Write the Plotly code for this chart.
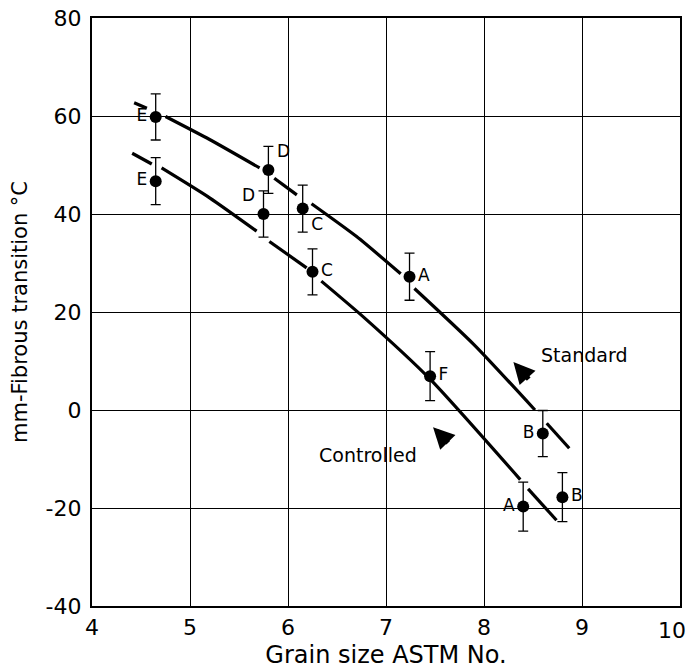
import plotly.graph_objects as go

# Measured transition temperatures (mean ± scatter) for the two steels
std_labels = ["E", "D", "C", "A", "B"]
std_grain = [4.65, 5.80, 6.15, 7.24, 8.60]
std_temp = [59.8, 49.0, 41.1, 27.2, -4.8]
std_err = [4.7, 4.8, 4.8, 4.8, 4.7]

ctl_labels = ["E", "D", "C", "F", "A", "B"]
ctl_grain = [4.65, 5.75, 6.25, 7.45, 8.40, 8.80]
ctl_temp = [46.7, 40.0, 28.2, 6.9, -19.7, -17.8]
ctl_err = [4.8, 4.7, 4.7, 5.0, 5.0, 5.0]

# Hand-drawn trend curves, broken where they pass the data points
std_curve_x = [4.43, 4.56, None, 4.75, 5.20, 5.71, None, 5.86, 6.09, None,
               6.24, 6.70, 7.15, None, 7.29, 7.90, 8.52, None, 8.64, 8.87]
std_curve_y = [62.7, 61.6, None, 59.9, 55.2, 49.4, None, 47.3, 43.9, None,
               42.1, 35.4, 27.8, None, 24.8, 13.3, 0.0, None, -2.7, -7.8]

ctl_curve_x = [4.41, 4.61, None, 4.71, 5.20, 5.68, None, 5.81, 6.19, None,
               6.34, 6.78, 7.45, 8.37, None, 8.45, 8.74]
ctl_curve_y = [52.4, 50.2, None, 49.4, 43.3, 36.5, None, 34.4, 29.0, None,
               26.3, 18.8, 6.3, -14.2, None, -16.1, -22.5]

x_ticks = [4, 5, 6, 7, 8, 9, 10]
x_tick_text = ["4", "5", "6", "7", "8", "9", "10"]
y_ticks = [-40, -20, 0, 20, 40, 60, 80]
y_tick_text = ["-40", "-20", "0", "20", "40", "60", "80"]

FONT = "DejaVu Sans"
INK = "black"
TICK_SIZE = 22

fig = go.Figure()

for cx, cy in [(std_curve_x, std_curve_y), (ctl_curve_x, ctl_curve_y)]:
    fig.add_trace(go.Scatter(
        x=cx, y=cy, mode="lines", connectgaps=False,
        line=dict(color=INK, width=3.2, shape="spline", smoothing=0.6),
        hoverinfo="skip", showlegend=False,
    ))

fig.add_trace(go.Scatter(
    x=std_grain, y=std_temp, mode="markers+text", text=std_labels,
    textposition=["middle left", "top right", "bottom right", "middle right", "middle left"],
    textfont=dict(family=FONT, size=17, color=INK),
    marker=dict(color=INK, size=12),
    error_y=dict(type="data", array=std_err, color=INK, thickness=1.3, width=5),
    showlegend=False, name="Standard",
))

fig.add_trace(go.Scatter(
    x=ctl_grain, y=ctl_temp, mode="markers+text", text=ctl_labels,
    textposition=["middle left", "top left", "middle right", "middle right", "middle left", "middle right"],
    textfont=dict(family=FONT, size=17, color=INK),
    marker=dict(color=INK, size=12),
    error_y=dict(type="data", array=ctl_err, color=INK, thickness=1.3, width=5),
    showlegend=False, name="Controlled",
))

# Curve identifiers with pointers
fig.add_annotation(x=9.02, y=11.2, text="Standard", showarrow=False,
                   font=dict(family=FONT, size=19, color=INK))
fig.add_annotation(x=8.30, y=9.8, ax=8.47, ay=6.0, axref="x", ayref="y",
                   text="", showarrow=True, arrowhead=2, arrowsize=0.85,
                   arrowwidth=5, arrowcolor=INK)
fig.add_annotation(x=6.82, y=-9.2, text="Controlled", showarrow=False,
                   font=dict(family=FONT, size=19, color=INK))
fig.add_annotation(x=7.48, y=-3.5, ax=7.65, ay=-7.0, axref="x", ayref="y",
                   text="", showarrow=True, arrowhead=2, arrowsize=0.85,
                   arrowwidth=5, arrowcolor=INK)

# The last x tick label sits flush against the right edge of the page
fig.add_annotation(x=1.0136, xref="paper", xanchor="right",
                   y=0, yref="paper", yanchor="top", yshift=-10,
                   text=x_tick_text[-1], showarrow=False,
                   font=dict(family=FONT, size=TICK_SIZE, color=INK))

axis_common = dict(
    showgrid=True, gridcolor=INK, gridwidth=1.3,
    showline=True, linecolor=INK, linewidth=2.2, mirror=True,
    zeroline=False, ticks="",
    tickfont=dict(family=FONT, size=TICK_SIZE, color=INK),
)

fig.update_xaxes(range=[4, 10], tickvals=x_ticks,
                 ticktext=x_tick_text[:-1] + [""],
                 title_text="Grain size ASTM No.", title_standoff=10,
                 title_font=dict(family=FONT, size=24, color=INK), **axis_common)
fig.update_yaxes(range=[-40, 80], tickvals=y_ticks, ticktext=y_tick_text,
                 ticklabelstandoff=4,
                 title_text="mm-Fibrous transition °C", title_standoff=12,
                 title_font=dict(family=FONT, size=21, color=INK), **axis_common)

fig.update_layout(
    width=688, height=669,
    margin=dict(l=92, r=8, t=18, b=63, autoexpand=False),
    paper_bgcolor="white", plot_bgcolor="white",
)

fig.write_html("out.html")
